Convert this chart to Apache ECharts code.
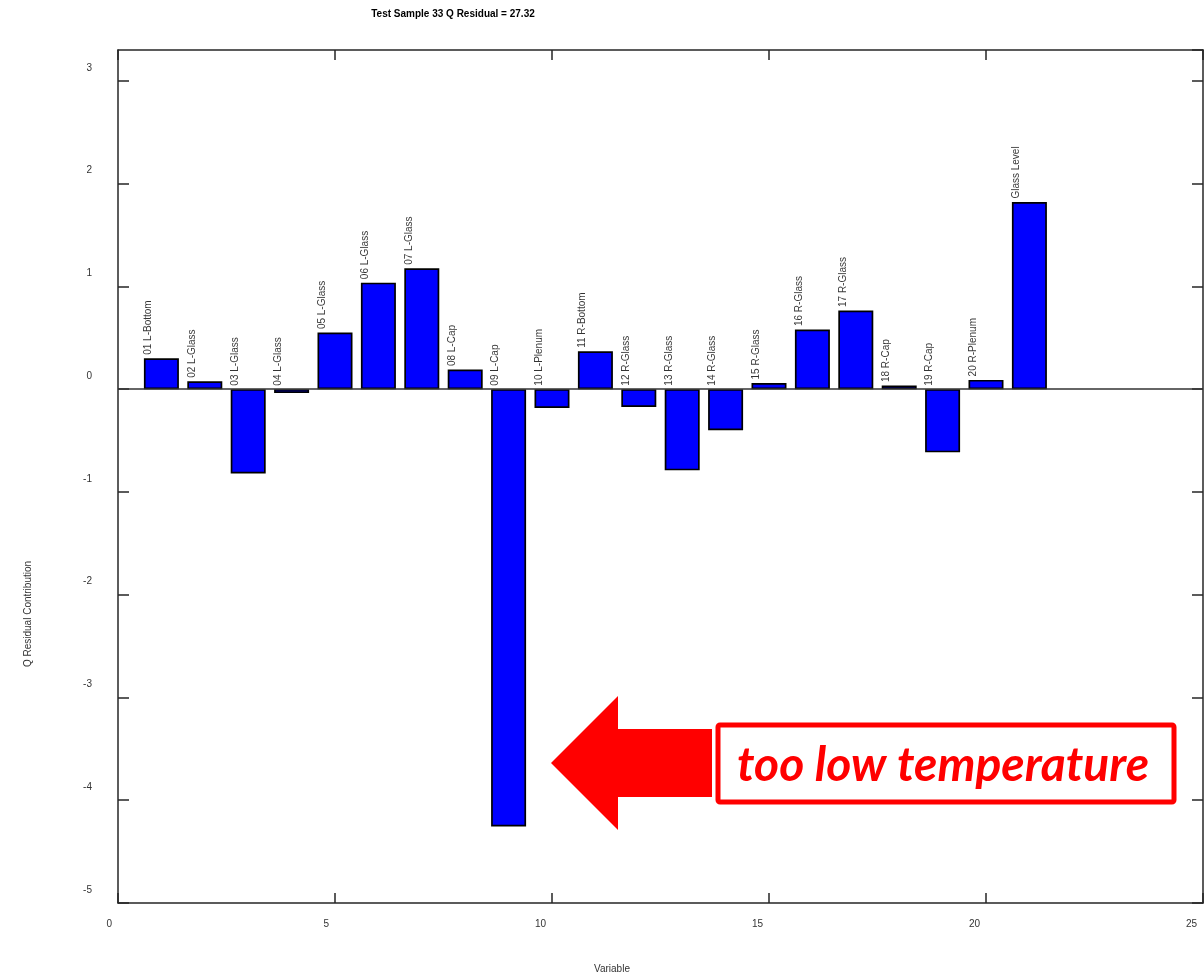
<!DOCTYPE html>
<html>
<head>
<meta charset="utf-8">
<script src="https://cdn.jsdelivr.net/npm/echarts@6/dist/echarts.min.js"></script>
<style>
html,body{margin:0;padding:0;background:#fff;}
#chart{width:1204px;height:976px;}
</style>
</head>
<body>
<div id="chart"></div>
<script>
const varIndex = [1,2,3,4,5,6,7,8,9,10,11,12,13,14,15,16,17,18,19,20,21];
const varNames = ['01 L-Bottom','02 L-Glass','03 L-Glass','04 L-Glass','05 L-Glass','06 L-Glass','07 L-Glass','08 L-Cap','09 L-Cap','10 L-Plenum','11 R-Bottom','12 R-Glass','13 R-Glass','14 R-Glass','15 R-Glass','16 R-Glass','17 R-Glass','18 R-Cap','19 R-Cap','20 R-Plenum','Glass Level'];
const qContrib = [0.30,0.076,-0.82,-0.037,0.55,1.036,1.176,0.19,-4.255,-0.183,0.368,-0.173,-0.79,-0.40,0.06,0.58,0.765,0.035,-0.615,0.09,1.82];
const xTicks = [0,5,10,15,20,25];
const yTicks = [-5,-4,-3,-2,-1,0,1,2,3];
const titleText = 'Test Sample 33 Q Residual = 27.32';
const xName = 'Variable';
const yName = 'Q Residual Contribution';
const noteText = 'too low temperature';

const chart = echarts.init(document.getElementById('chart'));
const axisColor = '#262626';
const font = 'Liberation Sans, Arial, sans-serif';

const barData = varIndex.map((x,i)=>[x, qContrib[i]]);
const labelData = varIndex.map((x,i)=>({value:[x, Math.max(qContrib[i],0)], name: varNames[i]}));

const xCommon = {
  type:'value', min:xTicks[0], max:xTicks[xTicks.length-1], interval:5,
  axisLine:{show:true, onZero:false, lineStyle:{color:axisColor, width:1.5}},
  axisTick:{show:true, inside:true, length:10, lineStyle:{color:axisColor, width:1.5}},
  splitLine:{show:false}
};
const yCommon = {
  type:'value', min:yTicks[0], max:3.3, interval:1,
  axisLine:{show:true, onZero:false, lineStyle:{color:axisColor, width:1.5}},
  axisTick:{show:true, inside:true, length:11, lineStyle:{color:axisColor, width:1.5}},
  splitLine:{show:false}
};

chart.setOption({
  animation:false,
  backgroundColor:'#fff',
  title:{
    text:titleText, left:448, top:4, textAlign:'center',
    textStyle:{fontFamily:font, fontSize:10, fontWeight:'bold', color:'#000'}
  },
  grid:{left:118, right:1, top:50, bottom:73, containLabel:false},
  xAxis:[
    Object.assign({}, xCommon, {
      position:'bottom',
      axisLabel:{show:true, margin:16, fontFamily:font, fontSize:10, color:'#333', align:'right', padding:[0,6,0,0]}
    }),
    Object.assign({}, xCommon, {position:'top', axisLabel:{show:false}})
  ],
  yAxis:[
    Object.assign({}, yCommon, {
      position:'left',
      axisLabel:{show:true, showMaxLabel:false, margin:26, fontFamily:font, fontSize:10, color:'#333',
        verticalAlign:'middle', lineHeight:26, formatter:v=>v+'\n '}
    }),
    Object.assign({}, yCommon, {position:'right', axisLabel:{show:false}})
  ],
  series:[
    {
      type:'bar', xAxisIndex:0, yAxisIndex:0,
      data:barData, barWidth:35,
      itemStyle:{color:'#0000ff', borderColor:'#000', borderWidth:1.7},
      markLine:{
        silent:true, symbol:['none','none'], label:{show:false},
        lineStyle:{color:'#333', width:1.5, type:'solid'},
        data:[{yAxis:0}]
      },
      z:2
    },
    {
      type:'scatter', xAxisIndex:0, yAxisIndex:0,
      data:labelData, symbolSize:1, silent:true,
      itemStyle:{color:'rgba(0,0,0,0)'},
      label:{
        show:true, position:'top', distance:3, rotate:90,
        align:'left', verticalAlign:'middle', offset:[0,-13],
        formatter:p=>p.name, fontFamily:font, fontSize:10, color:'#000'
      },
      z:3
    }
  ],
  graphic:[
    {type:'text', left:594, top:964, style:{text:xName, fontFamily:font, fontSize:10, fill:'#333'}},
    {type:'text', x:28, y:614, rotation:Math.PI/2,
      style:{text:yName, fontFamily:font, fontSize:10, fill:'#333', align:'center', verticalAlign:'middle'}},
    {type:'polygon', z:10,
      shape:{points:[[551,763],[618,696],[618,729],[712,729],[712,797],[618,797],[618,830]]},
      style:{fill:'#ff0000'}},
    {type:'rect', z:10,
      shape:{x:718, y:725, width:456, height:77, r:2},
      style:{fill:'#fff', stroke:'#ff0000', lineWidth:5}},
    {type:'text', z:11, x:943, y:766,
      style:{text:noteText, fontFamily:'Lato, Open Sans, sans-serif', fontSize:48, fontWeight:'bold', fontStyle:'italic',
        fill:'#ff0000', align:'center', verticalAlign:'middle'}}
  ]
});
</script>
</body>
</html>
